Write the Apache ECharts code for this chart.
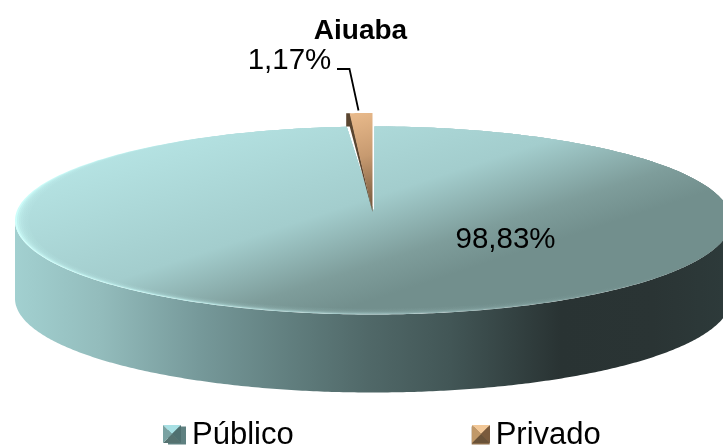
<!DOCTYPE html>
<html><head><meta charset="utf-8">
<style>html,body{margin:0;padding:0;background:#fff}#c{width:723px;height:447px}</style>
<script src="https://cdn.jsdelivr.net/npm/echarts@6/dist/echarts.min.js"></script>
</head><body><div id="c"></div>
<script>
const chartTitle = 'Aiuaba';
const categories = ['Público', 'Privado'];
const publicoValues = [98.83];
const privadoValues = [1.17];

const total = publicoValues[0] + privadoValues[0];
const FONT = '"Liberation Sans", Arial, sans-serif';
const cx = 373, cy = 220.5, rx = 358, ry = 94, depth = 78, apexY = 212, lift = 13.5;
const fmt = v => v.toFixed(2).replace('.', ',') + '%';
const grad = (x, y, x2, y2, stops) => ({type:'linear', x, y, x2, y2, global:true,
  colorStops: stops.map(s => ({offset:s[0], color:s[1]}))});
const pt = (a, ox=0, oy=0, sx=rx, sy=ry) => [cx+ox+sx*Math.sin(a), cy+oy-sy*Math.cos(a)];
function arc(a0, a1, fn, n=300){ const r=[]; for(let i=0;i<=n;i++){ r.push(fn(a0+(a1-a0)*i/n)); } return r; }

function renderPublico(params, api){
  const sweep = api.value(0) / total * 2 * Math.PI;
  const a0 = 0.0042, a1 = sweep;
  const wallA0 = Math.max(a0, Math.PI/2), wallA1 = Math.min(a1, 3*Math.PI/2);
  const wall = arc(wallA0, wallA1, a => pt(a)).concat(arc(wallA1, wallA0, a => pt(a,0,depth)));
  const faceFill = grad(130,140,200,356,[[0,'#b6e4e4'],[0.57,'#a3cdcd'],[0.85,'#7e9d9b'],[1,'#728f8d']]);
  const rimFill = grad(15,0,723,0,[[0,'#cdfdfa'],[0.2,'#c4f4f2'],[0.38,'#aed4d3'],[0.55,'#9cbcbc'],[0.8,'#84a2a0'],[1,'#6a8482']]);
  const layer = f => [[cx+1,apexY]].concat(arc(a0,a1,a=>{
    const wl = Math.max(0,-Math.sin(a)), wb = Math.max(0,-Math.cos(a));
    return pt(a,0,0,rx-13*f*wl,ry-5.5*f*wb);
  }));
  const feather = [0.15,0.3,0.45,0.6,0.75,0.9,1.05].map((f,i)=>({type:'polygon',shape:{points:layer(f)},
    style:{fill:faceFill,opacity:i===6?1:0.38}}));
  return {type:'group', children:[
    {type:'polygon', shape:{points:wall}, style:{fill:grad(15,0,723,0,[
      [0,'#a2d0d0'],[0.12,'#93bcbc'],[0.26,'#76999a'],[0.4,'#5f7c7c'],[0.5,'#506868'],[0.615,'#425656'],[0.77,'#293333'],[0.9,'#2a3434'],[1,'#2d3a3a']])}},
    {type:'polygon', shape:{points:layer(0)}, style:{fill:rimFill}}
  ].concat(feather,[
    {type:'text', style:{x:505.5,y:240,text:fmt(api.value(0)),font:'29.5px '+FONT,fill:'#000',align:'center',verticalAlign:'middle'}}
  ])};
}
function renderPrivado(params, api){
  const sweep = api.value(0) / total * 2 * Math.PI;
  const L = pt(-sweep,-0.5,-lift);
  const tip = [cx-0.5, apexY];
  return {type:'group', children:[
    {type:'polygon', shape:{points:[tip,[L[0]+3.5,cy-ry],[L[0],cy-ry],[L[0],L[1]],[L[0]+4,L[1]]]}, style:{fill:'#5a4530'}},
    {type:'polygon', shape:{points:[tip].concat(arc(-sweep*0.87,0,a=>pt(a,-0.5,-lift),12))},
      style:{fill:grad(cx-26,113,cx+2,212,[[0,'#eabb8c'],[0.45,'#c79a70'],[1,'#6e5238']])}},
    {type:'polyline', shape:{points:[[337,69],[349.5,69],[358.5,110.5]]}, style:{fill:'none',stroke:'#000',lineWidth:1.8}},
    {type:'text', style:{x:289.5,y:61,text:fmt(api.value(0)),font:'29.5px '+FONT,fill:'#000',align:'center',verticalAlign:'middle'}}
  ]};
}
function swatch(x, y, s, c){
  const m=[x+s/2,y+s/2], a=[x,y], b=[x+s,y], d=[x+s,y+s], e=[x,y+s];
  return [[a,b,c[0]],[b,d,c[1]],[d,e,c[2]],[e,a,c[3]]].map(t=>({type:'polygon',z:100,
    shape:{points:[m,t[0],t[1]]},style:{fill:t[2]}}));
}
const chart = echarts.init(document.getElementById('c'), null, {renderer:'canvas', width:723, height:447});
chart.setOption({
  animation:false,
  backgroundColor:'#fff',
  title:{text:chartTitle,left:355.5,top:12,textAlign:'center',textStyle:{fontFamily:FONT,fontWeight:'bold',fontSize:28,color:'#000'}},
  legend:{data:categories,left:163,top:415,itemWidth:18,itemHeight:18,itemGap:178,icon:'rect',
    textStyle:{fontFamily:FONT,fontSize:31,color:'#000',padding:[0,0,0,1]},selectedMode:false},
  graphic:{elements:swatch(163,425,18,['#a8e0e4','#4f7070','#557270','#7aa2a2'])
    .concat(swatch(472,425,18,['#f2c898','#7a5a3c','#6a5238','#c09868']))},
  series:[
    {type:'custom',name:categories[0],coordinateSystem:'none',data:publicoValues.map(v=>[v]),renderItem:renderPublico,itemStyle:{color:'#5e8080'},silent:true},
    {type:'custom',name:categories[1],coordinateSystem:'none',data:privadoValues.map(v=>[v]),renderItem:renderPrivado,itemStyle:{color:'#8a6b49'},silent:true}
  ]
});
</script></body></html>
